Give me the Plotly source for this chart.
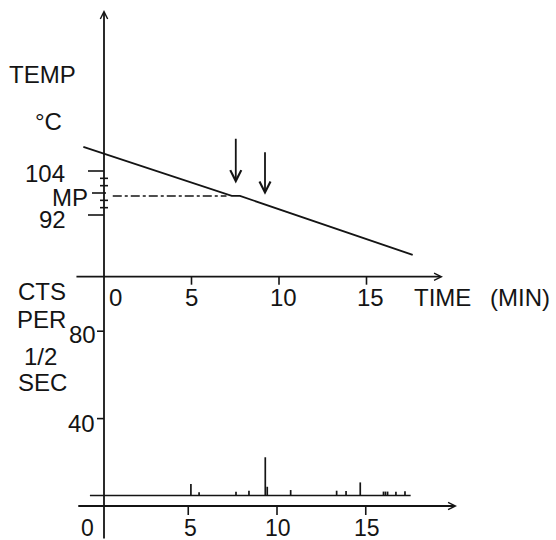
import plotly.graph_objects as go

# ---------------- data ----------------
# upper panel: temperature (deg C) vs time (min)
temp_time = [-1.18, 7.30, 7.77, 17.64]
temp_degc = [110.6, 97.2, 97.2, 81.1]
mp_level = 97.2
mp_dash_time = [0.5, 7.0]
arrow_time = [7.53, 9.20]
arrow_tip = [100.6, 97.5]
arrow_tail = [113.2, 109.5]

# lower panel: counts per 1/2 sec vs time (min)
spike_time = [5.15, 5.61, 7.69, 8.42, 9.34, 9.45, 10.77, 13.36, 13.89, 14.69,
              16.00, 16.11, 16.23, 16.70, 17.21]
spike_cts = [10.1, 6.3, 6.5, 7.0, 22.3, 8.8, 7.3, 7.0, 6.9, 10.8,
             6.6, 6.6, 6.6, 6.5, 6.7]
background_cts = 4.8
background_time = [-0.54, 17.53]

# axes / ticks
temp_long_ticks = [104, 92]
temp_mp_tick = [98]
temp_minor_ticks = [102, 100, 96, 94]
temp_tick_labels = ["104", "92"]
cts_ticks = [80, 40]
cts_tick_labels = ["80", "40"]
time_ticks = [0, 5, 10, 15]
time_tick_labels = ["0", "5", "10", "15"]

# ---------------- scales ----------------
W, H = 556, 540
TOP_X0_PX, TOP_PX_PER_MIN = 104.0, 17.5
BOT_X0_PX, BOT_PX_PER_MIN = 99.5, 17.75
T_REF, T_REF_PX, PX_PER_DEG = 104.0, 171.0, 3.667
C0_PX, PX_PER_CT = 506.0, 2.185

x_top_range = [-TOP_X0_PX / TOP_PX_PER_MIN, (W - TOP_X0_PX) / TOP_PX_PER_MIN]
x_bot_range = [-BOT_X0_PX / BOT_PX_PER_MIN, (W - BOT_X0_PX) / BOT_PX_PER_MIN]
t_range = [T_REF - (H - T_REF_PX) / PX_PER_DEG, T_REF + T_REF_PX / PX_PER_DEG]
c_range = [-(H - C0_PX) / PX_PER_CT, C0_PX / PX_PER_CT]

INK = "#141414"
FONT = dict(family="Liberation Sans, Arial, sans-serif", size=22, color=INK)
LW = 1.8

fig = go.Figure()

# temperature curve
fig.add_trace(go.Scatter(x=temp_time, y=temp_degc, mode="lines",
                         line=dict(color=INK, width=LW), xaxis="x", yaxis="y",
                         hoverinfo="skip"))
# MP dash-dot guide
fig.add_trace(go.Scatter(x=mp_dash_time, y=[mp_level, mp_level], mode="lines",
                         line=dict(color=INK, width=1.4, dash="dashdot"),
                         xaxis="x", yaxis="y", hoverinfo="skip"))

# background line + spikes
fig.add_trace(go.Scatter(x=background_time, y=[background_cts] * 2, mode="lines",
                         line=dict(color=INK, width=1.7), xaxis="x2", yaxis="y2",
                         hoverinfo="skip"))
sx, sy = [], []
for t, c in zip(spike_time, spike_cts):
    sx += [t, t, None]
    sy += [background_cts, c, None]
fig.add_trace(go.Scatter(x=sx, y=sy, mode="lines", line=dict(color=INK, width=1.7),
                         xaxis="x2", yaxis="y2", hoverinfo="skip"))

annotations = []
shapes = []

# axes with arrowheads
def axis_arrow(xref, yref, x, y, ax, ay, size=0.8, head=5):
    annotations.append(dict(x=x, y=y, ax=ax, ay=ay, xref=xref, yref=yref,
                            axref=xref, ayref=yref, text="", showarrow=True,
                            arrowhead=head, arrowsize=size, arrowwidth=LW,
                            arrowcolor=INK, standoff=0))

top_axis_level = T_REF - (276.7 - T_REF_PX) / PX_PER_DEG
axis_arrow("x", "y", 0, T_REF + (T_REF_PX - 10) / PX_PER_DEG, 0, t_range[0])       # vertical
axis_arrow("x", "y", 19.37, top_axis_level, -1.66, top_axis_level)                    # top time axis
axis_arrow("x2", "y2", 20.14, 0, -1.28, 0)                                            # bottom time axis

# event arrows
for t, tip, tail in zip(arrow_time, arrow_tip, arrow_tail):
    axis_arrow("x", "y", t, tip, t, tail, size=1.2)

# tick marks
def tick_h(yref, yval, x0, x1):
    shapes.append(dict(type="line", xref="x", yref=yref, xsizemode="pixel",
                       xanchor=0, x0=x0, x1=x1, y0=yval, y1=yval,
                       line=dict(color=INK, width=1.6)))

for v in temp_long_ticks:
    tick_h("y", v, -16, 0)
for v in temp_mp_tick:
    tick_h("y", v, -12, 2)
for v in temp_minor_ticks:
    tick_h("y", v, -4, 4)
for v in cts_ticks:
    tick_h("y2", v, -7, 0)

for v in time_ticks[1:]:
    shapes.append(dict(type="line", xref="x", yref="y", ysizemode="pixel",
                       yanchor=top_axis_level, x0=v, x1=v, y0=0, y1=-8,
                       line=dict(color=INK, width=1.6)))
    shapes.append(dict(type="line", xref="x2", yref="y2", ysizemode="pixel",
                       yanchor=0, x0=v, x1=v, y0=0, y1=-9,
                       line=dict(color=INK, width=1.6)))

def label(text, xref, yref, x, y, xanchor="center", xshift=0, yshift=0, size=22):
    f = dict(FONT)
    f["size"] = size
    annotations.append(dict(text=text, xref=xref, yref=yref, x=x, y=y,
                            xanchor=xanchor, yanchor="middle", showarrow=False,
                            xshift=xshift, yshift=yshift, font=f))

# upper panel labels
label("TEMP", "x", "y", -3.49, 130.2, size=24)
label("°C", "x", "y", -3.2, 117.4, size=24)
label(temp_tick_labels[0], "x", "y", -2.11, 103.2, xanchor="right", size=24)
label("MP", "x", "y", -0.8, 96.9, xanchor="right", size=24)
label(temp_tick_labels[1], "x", "y", -2.06, 90.9, xanchor="right", size=24)
top_lab_y = T_REF - (297.5 - T_REF_PX) / PX_PER_DEG
for v, txt, dx in zip(time_ticks, time_tick_labels, [11, 0, 4, 4]):
    label(txt, "x", "y", v, top_lab_y, xshift=dx, size=24)
label("TIME", "x", "y", 17.58, top_lab_y, xanchor="left", size=24)
label("(MIN)", "x", "y", 21.94, top_lab_y, xanchor="left", size=24)

# lower panel labels
label("CTS", "x2", "y2", -3.26, 98.1, size=24)
label("PER", "x2", "y2", -3.26, 85.4, size=24)
label("1/2", "x2", "y2", -3.3, 68.2, size=24)
label("SEC", "x2", "y2", -3.22, 56.3, size=24)
label(cts_tick_labels[0], "x2", "y2", -0.07, 78.3, xanchor="right", size=24)
label(cts_tick_labels[1], "x2", "y2", -0.12, 37.8, xanchor="right", size=24)
bot_lab_y = -(527.5 - C0_PX) / PX_PER_CT
for v, txt, dx in zip(time_ticks, time_tick_labels, [-12, 2, 1, 1]):
    label(txt, "x2", "y2", v, bot_lab_y, xshift=dx, size=23)

hidden = dict(visible=False, showgrid=False, zeroline=False, fixedrange=True)
fig.update_layout(
    width=W, height=H, margin=dict(l=0, r=0, t=0, b=0, pad=0),
    paper_bgcolor="white", plot_bgcolor="white", showlegend=False,
    xaxis=dict(range=x_top_range, domain=[0, 1], **hidden),
    xaxis2=dict(range=x_bot_range, overlaying="x", **hidden),
    yaxis=dict(range=t_range, domain=[0, 1], **hidden),
    yaxis2=dict(range=c_range, overlaying="y", **hidden),
    annotations=annotations, shapes=shapes,
)

fig.write_html("out.html")
